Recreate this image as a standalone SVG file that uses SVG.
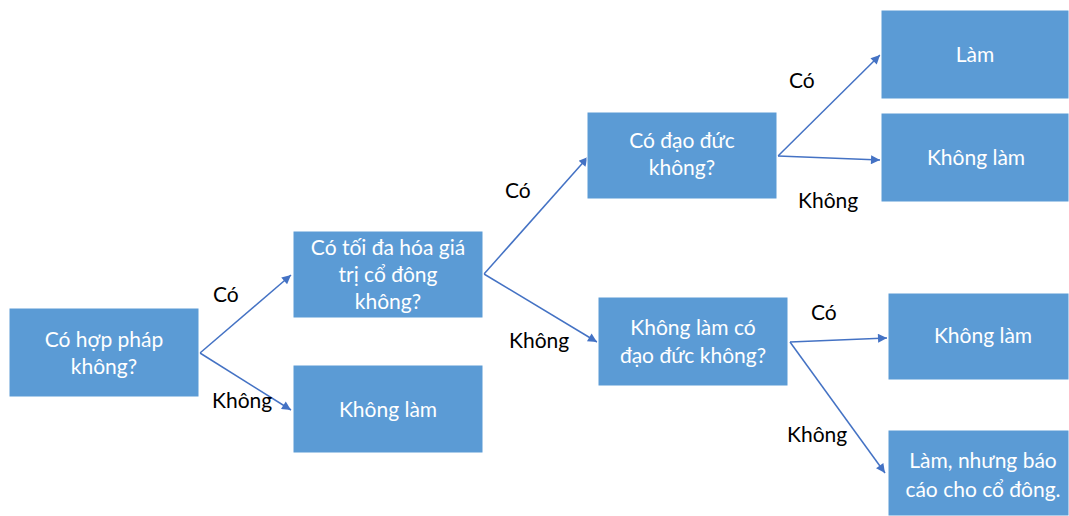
<svg xmlns="http://www.w3.org/2000/svg" width="1069" height="516" viewBox="0 0 1069 516">
  <style>
    .box { fill: #5B9BD5; stroke: #FFFFFF; stroke-width: 1; }
    .bt { font-family: Lato, "Open Sans", sans-serif; font-size: 21px; fill: #FFFFFF; text-anchor: middle; }
    .lbl { font-family: Lato, "Open Sans", sans-serif; font-size: 21px; fill: #000000; }
    .edge { stroke: #4472C4; stroke-width: 1.5; fill: none; marker-end: url(#arrow); }
  </style>
  <defs>
    <marker id="arrow" viewBox="0 0 10 10" refX="10" refY="5" markerWidth="11" markerHeight="9" markerUnits="userSpaceOnUse" orient="auto">
      <path d="M0,0 L10,5 L0,10 Z" fill="#4472C4"/>
    </marker>
  </defs>
  <rect width="1069" height="516" fill="#FFFFFF"/>

  <!-- connectors -->
  <g id="connectors">
    <line class="edge" x1="200" y1="353" x2="291" y2="275"/>
    <line class="edge" x1="200" y1="353" x2="291" y2="410"/>
    <line class="edge" x1="484" y1="274" x2="588" y2="157"/>
    <line class="edge" x1="484" y1="274" x2="597" y2="342"/>
    <line class="edge" x1="778" y1="156" x2="880" y2="55"/>
    <line class="edge" x1="778" y1="156" x2="880" y2="160"/>
    <line class="edge" x1="790" y1="342" x2="887" y2="338"/>
    <line class="edge" x1="790" y1="342" x2="885" y2="473"/>
    <text class="lbl" x="213" y="302">Có</text>
    <text class="lbl" x="212" y="408">Không</text>
    <text class="lbl" x="505" y="198">Có</text>
    <text class="lbl" x="509" y="348">Không</text>
    <text class="lbl" x="789" y="88">Có</text>
    <text class="lbl" x="798" y="208">Không</text>
    <text class="lbl" x="811" y="320">Có</text>
    <text class="lbl" x="787" y="442">Không</text>
  </g>

  <!-- nodes -->
  <g id="n-hop-phap">
    <rect class="box" x="9" y="308" width="190" height="89"/>
    <text class="bt" x="104" y="347">Có hợp pháp</text>
    <text class="bt" x="104" y="374">không?</text>
  </g>
  <g id="n-toi-da-hoa">
    <rect class="box" x="293" y="231" width="190" height="87"/>
    <text class="bt" x="388" y="255">Có tối đa hóa giá</text>
    <text class="bt" x="388" y="282">trị cổ đông</text>
    <text class="bt" x="388" y="309">không?</text>
  </g>
  <g id="n-khong-lam-1">
    <rect class="box" x="293" y="365" width="190" height="88"/>
    <text class="bt" x="388" y="417">Không làm</text>
  </g>
  <g id="n-dao-duc">
    <rect class="box" x="587" y="112" width="190" height="87"/>
    <text class="bt" x="682" y="148">Có đạo đức</text>
    <text class="bt" x="682" y="175">không?</text>
  </g>
  <g id="n-khong-lam-dao-duc">
    <rect class="box" x="598" y="297" width="190" height="89"/>
    <text class="bt" x="693" y="335">Không làm có</text>
    <text class="bt" x="693" y="363">đạo đức không?</text>
  </g>
  <g id="n-lam">
    <rect class="box" x="881" y="10" width="188" height="89"/>
    <text class="bt" x="975" y="62">Làm</text>
  </g>
  <g id="n-khong-lam-2">
    <rect class="box" x="881" y="113" width="188" height="89"/>
    <text class="bt" x="976" y="165">Không làm</text>
  </g>
  <g id="n-khong-lam-3">
    <rect class="box" x="888" y="293" width="181" height="87"/>
    <text class="bt" x="983" y="343">Không làm</text>
  </g>
  <g id="n-lam-bao-cao">
    <rect class="box" x="888" y="430" width="181" height="86"/>
    <text class="bt" x="983" y="468">Làm, nhưng báo</text>
    <text class="bt" x="983" y="497">cáo cho cổ đông.</text>
  </g>
</svg>
